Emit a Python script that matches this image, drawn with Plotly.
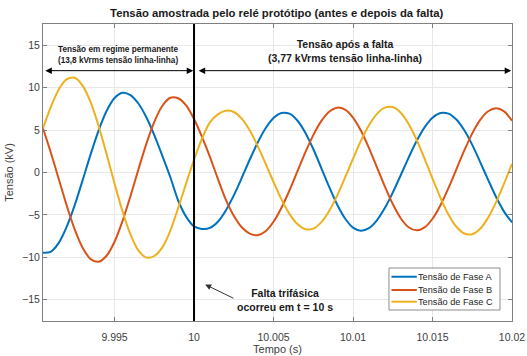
import plotly.graph_objects as go

# ---- data ----
t_start = 9.9905
t_step = 0.0005
n_samples = 60
time_s = [round(t_start + t_step * i, 4) for i in range(n_samples)]

fase_a = [-9.45, -9.32, -8.27, -6.36, -3.82, -0.87, 2.16, 4.97, 7.25, 8.78,
          9.40, 9.13, 8.13, 6.51, 4.40, 2.00, -0.50, -3.30, -5.20, -6.35,
          -6.65, -6.53, -5.80, -4.47, -2.70, -0.64, 1.50, 3.51, 5.21, 6.41,
          7.01, 6.93, 6.13, 4.69, 2.77, 0.55, -1.70, -3.77, -5.42, -6.49,
          -6.86, -6.55, -5.63, -4.19, -2.37, -0.32, 1.76, 3.71, 5.31, 6.45,
          7.01, 6.94, 6.24, 4.97, 3.25, 1.23, -0.87, -2.89, -4.61, -5.88]

fase_b = [5.20, 2.30, -0.82, -3.94, -6.74, -8.90, -10.21, -10.52, -9.81, -8.16,
          -5.73, -2.79, 0.36, 3.38, 5.97, 7.84, 8.81, 8.75, 7.90, 6.30,
          4.20, 1.85, -0.75, -3.20, -5.10, -6.45, -7.20, -7.39, -6.92, -5.81,
          -4.16, -2.12, 0.12, 2.36, 4.40, 6.05, 7.16, 7.64, 7.41, 6.48,
          4.93, 2.91, 0.64, -1.64, -3.72, -5.39, -6.45, -6.82, -6.47, -5.45,
          -3.85, -1.85, 0.38, 2.60, 4.61, 6.20, 7.22, 7.57, 7.21, 6.10]

fase_c = [5.20, 7.76, 9.82, 11.00, 11.16, 10.21, 8.25, 5.47, 2.17, -1.29,
          -4.57, -7.28, -9.18, -10.03, -9.84, -8.82, -6.90, -4.20, -1.30, 1.50,
          4.00, 5.90, 6.85, 7.28, 7.13, 6.34, 4.97, 3.14, 1.05, -1.12,
          -3.17, -4.87, -6.08, -6.68, -6.62, -5.88, -4.53, -2.72, -0.59, 1.63,
          3.75, 5.56, 6.91, 7.65, 7.71, 7.05, 5.72, 3.86, 1.63, -0.72,
          -2.99, -4.95, -6.39, -7.19, -7.27, -6.63, -5.32, -3.49, -1.30, 1.01]

series_names = ["Tensão de Fase A", "Tensão de Fase B", "Tensão de Fase C"]
series_colors = ["#0072BD", "#D95319", "#EDB120"]

x_tick_vals = [9.995, 10.0, 10.005, 10.01, 10.015, 10.02]
x_tick_text = ["9.995", "10", "10.005", "10.01", "10.015", "10.02"]
y_tick_vals = [-15, -10, -5, 0, 5, 10, 15]
x_range = [9.9905, 10.02]
y_range = [-17.5, 17.5]
fault_time = 10.0
arrow_level = 12.0

FONT = "Liberation Sans, Arial, Helvetica, sans-serif"

fig = go.Figure()
for vals, name, col in zip([fase_a, fase_b, fase_c], series_names, series_colors):
    fig.add_trace(go.Scatter(x=time_s, y=vals, mode="lines", name=name,
                             line=dict(color=col, width=2, shape="spline", smoothing=0.8)))

# fault vertical line
fig.add_shape(type="line", xref="x", yref="paper", x0=fault_time, x1=fault_time,
              y0=0, y1=1, line=dict(color="black", width=2))

# compact legend box (MATLAB style)
leg_x0, leg_x1, leg_y0, leg_y1 = 0.7377, 0.9744, 0.037, 0.1785
fig.add_shape(type="rect", xref="paper", yref="paper", x0=leg_x0, x1=leg_x1,
              y0=leg_y0, y1=leg_y1, fillcolor="white", line=dict(color="#8c8c8c", width=1),
              layer="above")
row_y = [0.149, 0.1044, 0.0650]
ann = []
for name, col, ry in zip(series_names, series_colors, row_y):
    fig.add_shape(type="line", xref="paper", yref="paper", x0=0.743, x1=0.797,
                  y0=ry, y1=ry, line=dict(color=col, width=2), layer="above")
    ann.append(dict(x=0.796, y=ry, xref="paper", yref="paper", xanchor="left",
                    yanchor="middle", showarrow=False, text=name,
                    font=dict(family=FONT, size=9.2, color="#262626")))

# double-headed arrows
ann.append(dict(x=fault_time - 0.00005, y=arrow_level, ax=x_range[0] + 0.00005, ay=arrow_level,
                xref="x", yref="y", axref="x", ayref="y", text="", showarrow=True,
                arrowhead=2, startarrowhead=2, arrowside="end+start", arrowsize=1.3,
                startarrowsize=1.3, arrowwidth=1, arrowcolor="black"))
ann.append(dict(x=x_range[1] - 0.00005, y=arrow_level, ax=fault_time + 0.0002, ay=arrow_level,
                xref="x", yref="y", axref="x", ayref="y", text="", showarrow=True,
                arrowhead=2, startarrowhead=2, arrowside="end+start", arrowsize=1.3,
                startarrowsize=1.3, arrowwidth=1, arrowcolor="black"))
ann.append(dict(x=9.9952, y=13.85, xref="x", yref="y", showarrow=False,
                text="<b>Tensão em regime permanente<br>(13,8 kVrms tensão linha-linha)</b>",
                font=dict(family=FONT, size=8.2, color="#1a1a1a"), align="center"))
ann.append(dict(x=10.0095, y=14.35, xref="x", yref="y", showarrow=False,
                text="<b>Tensão após a falta<br>(3,77 kVrms tensão linha-linha)</b>",
                font=dict(family=FONT, size=10.5, color="#1a1a1a"), align="center"))
ann.append(dict(x=10.0057, y=-15.0, xref="x", yref="y", showarrow=False,
                text="<b>Falta trifásica<br>ocorreu em t = 10 s</b>",
                font=dict(family=FONT, size=10.5, color="#1a1a1a"), align="center"))
ann.append(dict(x=10.0007, y=-13.2, ax=10.00257, ay=-14.9, xref="x", yref="y",
                axref="x", ayref="y", text="", showarrow=True, arrowhead=2,
                arrowsize=1.2, arrowwidth=1, arrowcolor="#333333"))

axis_common = dict(showline=True, linecolor="#808080", linewidth=1, mirror="ticks",
                   ticks="inside", ticklen=4, tickcolor="#808080", showgrid=True,
                   gridcolor="#e8e8e8", gridwidth=1, zeroline=False, automargin=False,
                   tickfont=dict(family=FONT, size=10.5, color="#404040"))

fig.update_layout(
    width=527, height=356,
    margin=dict(l=43, r=15, t=24, b=35),
    paper_bgcolor="white", plot_bgcolor="white",
    title=dict(text="<b>Tensão amostrada pelo relé protótipo (antes e depois da falta)</b>",
               x=0.525, xanchor="center", y=0.963, yanchor="middle",
               font=dict(family=FONT, size=11.3, color="#1a1a1a")),
    xaxis=dict(range=x_range, tickvals=x_tick_vals, ticktext=x_tick_text,
               ticklabelstandoff=6,
               title=dict(text="Tempo (s)", standoff=1,
                          font=dict(family=FONT, size=11, color="#404040")),
               **axis_common),
    yaxis=dict(range=y_range, tickvals=y_tick_vals,
               title=dict(text="Tensão (kV)", standoff=6,
                          font=dict(family=FONT, size=11, color="#404040")),
               **axis_common),
    annotations=ann,
    showlegend=False,
)

fig.write_html("out.html")
